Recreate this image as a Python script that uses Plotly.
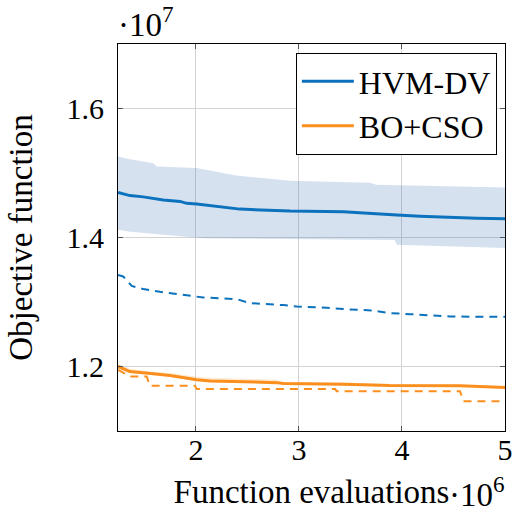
import plotly.graph_objects as go

# x values in units of 10^6 function evaluations, y values in units of 10^7
hvm_mean_x = [1.243, 1.359, 1.488, 1.585, 1.683, 1.845, 1.910, 2.007, 2.233, 2.427, 2.913, 3.430, 3.949, 4.175, 4.725, 5.0]
hvm_mean_y = [1.470, 1.465, 1.463, 1.460, 1.458, 1.456, 1.453, 1.452, 1.448, 1.444, 1.441, 1.440, 1.435, 1.433, 1.430, 1.429]

hvm_upper_x = [1.243, 1.359, 1.585, 1.617, 2.007, 2.39, 2.913, 3.69, 3.75, 5.0]
hvm_upper_y = [1.5256, 1.5215, 1.515, 1.510, 1.5076, 1.496, 1.488, 1.485, 1.4817, 1.4775]
hvm_lower_x = [1.243, 1.359, 2.07, 3.93, 3.95, 5.0]
hvm_lower_y = [1.412, 1.409, 1.399, 1.396, 1.3887, 1.3836]

hvm_best_x = [1.243, 1.294, 1.376, 1.488, 1.65, 1.97, 2.07, 2.395, 2.524, 2.848, 2.978, 3.269, 3.43, 3.72, 3.88, 4.078, 4.466, 5.0]
hvm_best_y = [1.342, 1.3396, 1.325, 1.320, 1.3158, 1.3096, 1.307, 1.3045, 1.2983, 1.2952, 1.293, 1.291, 1.289, 1.2868, 1.2828, 1.2812, 1.2775, 1.277]

bo_mean_x = [1.243, 1.359, 1.585, 1.748, 2.007, 2.136, 2.78, 2.848, 3.43, 3.88, 4.56, 4.82, 5.0]
bo_mean_y = [1.200, 1.1922, 1.1886, 1.186, 1.1793, 1.1777, 1.175, 1.1736, 1.1726, 1.1705, 1.170, 1.168, 1.1674]
bo_upper_y = [1.204, 1.196, 1.192, 1.190, 1.184, 1.1825, 1.1795, 1.1765, 1.1752, 1.1728, 1.172, 1.1698, 1.169]
bo_lower_y = [1.197, 1.190, 1.1865, 1.184, 1.1775, 1.176, 1.1735, 1.1722, 1.1712, 1.1692, 1.1688, 1.1668, 1.1662]

bo_best_x = [1.243, 1.30, 1.359, 1.521, 1.553, 1.99, 2.007, 3.35, 3.366, 4.563, 4.595, 5.0]
bo_best_y = [1.1948, 1.190, 1.1845, 1.1845, 1.170, 1.170, 1.1653, 1.1653, 1.1617, 1.1617, 1.1462, 1.1462]

x_ticks = [2, 3, 4, 5]
y_ticks = [1.2, 1.4, 1.6]

BLUE = "#0C72BD"
ORANGE = "#FB8F1E"
FONT = "Liberation Serif, Times New Roman, serif"
FS_TICK = 30
FS_TEXT = 33

fig = go.Figure()

# blue band
fig.add_trace(go.Scatter(x=hvm_upper_x + hvm_lower_x[::-1], y=hvm_upper_y + hvm_lower_y[::-1],
                         fill="toself", fillcolor="rgba(50,105,180,0.2)", line=dict(width=0),
                         mode="lines", showlegend=False, hoverinfo="skip"))
# orange band
fig.add_trace(go.Scatter(x=bo_mean_x + bo_mean_x[::-1], y=bo_upper_y + bo_lower_y[::-1],
                         fill="toself", fillcolor="rgba(251,143,30,0.2)", line=dict(width=0),
                         mode="lines", showlegend=False, hoverinfo="skip"))

fig.add_trace(go.Scatter(x=hvm_best_x, y=hvm_best_y, mode="lines",
                         line=dict(color=BLUE, width=2, dash="8px,6px"), showlegend=False))
fig.add_trace(go.Scatter(x=bo_best_x, y=bo_best_y, mode="lines",
                         line=dict(color=ORANGE, width=2, dash="8px,6px"), showlegend=False))
fig.add_trace(go.Scatter(x=hvm_mean_x, y=hvm_mean_y, mode="lines", name="HVM-DV",
                         line=dict(color=BLUE, width=3)))
fig.add_trace(go.Scatter(x=bo_mean_x, y=bo_mean_y, mode="lines", name="BO+CSO",
                         line=dict(color=ORANGE, width=3)))

axis_common = dict(showline=True, linecolor="black", linewidth=1.2, mirror="allticks",
                   ticks="inside", ticklen=5, tickcolor="#555555", showgrid=True,
                   gridcolor="#D3D3D3", gridwidth=1, zeroline=False, automargin=False,
                   tickfont=dict(family=FONT, size=FS_TICK, color="black"))

fig.update_xaxes(range=[1.243, 5.0], tickvals=x_ticks, ticktext=[str(v) for v in x_ticks],
                 ticklabelstandoff=-8,
                 title=dict(text="Function evaluations", font=dict(family=FONT, size=FS_TEXT, color="black"),
                            standoff=14), **axis_common)
fig.update_yaxes(range=[1.1, 1.7], tickvals=y_ticks, ticktext=[f"{v:.1f}" for v in y_ticks],
                 ticklabelstandoff=7,
                 title=dict(text="Objective function", font=dict(family=FONT, size=FS_TEXT, color="black"),
                            standoff=23), **axis_common)

fig.add_annotation(text="·10<sup>7</sup>", xref="paper", yref="paper", x=0.0, y=1.0,
                   xanchor="left", yanchor="bottom", showarrow=False, yshift=-1, xshift=-2,
                   font=dict(family=FONT, size=FS_TEXT, color="black"))
fig.add_annotation(text="·10<sup>6</sup>", xref="paper", yref="paper", x=1.0, y=0.0,
                   xanchor="right", yanchor="top", showarrow=False, yshift=-38, xshift=2,
                   font=dict(family=FONT, size=FS_TEXT, color="black"))

fig.update_layout(
    width=514, height=515,
    margin=dict(l=118, r=9, t=44, b=84, autoexpand=False),
    plot_bgcolor="white", paper_bgcolor="white",
    font=dict(family=FONT, size=FS_TEXT, color="black"),
    legend=dict(x=0.979, y=0.977, xanchor="right", yanchor="top",
                bgcolor="white", bordercolor="black", borderwidth=1,
                font=dict(family=FONT, size=32, color="black"),
                itemwidth=52, tracegroupgap=0),
)

fig.write_html("out.html", config={"displayModeBar": False},
               post_script="document.body.style.margin='0px';document.body.style.padding='0px';")
